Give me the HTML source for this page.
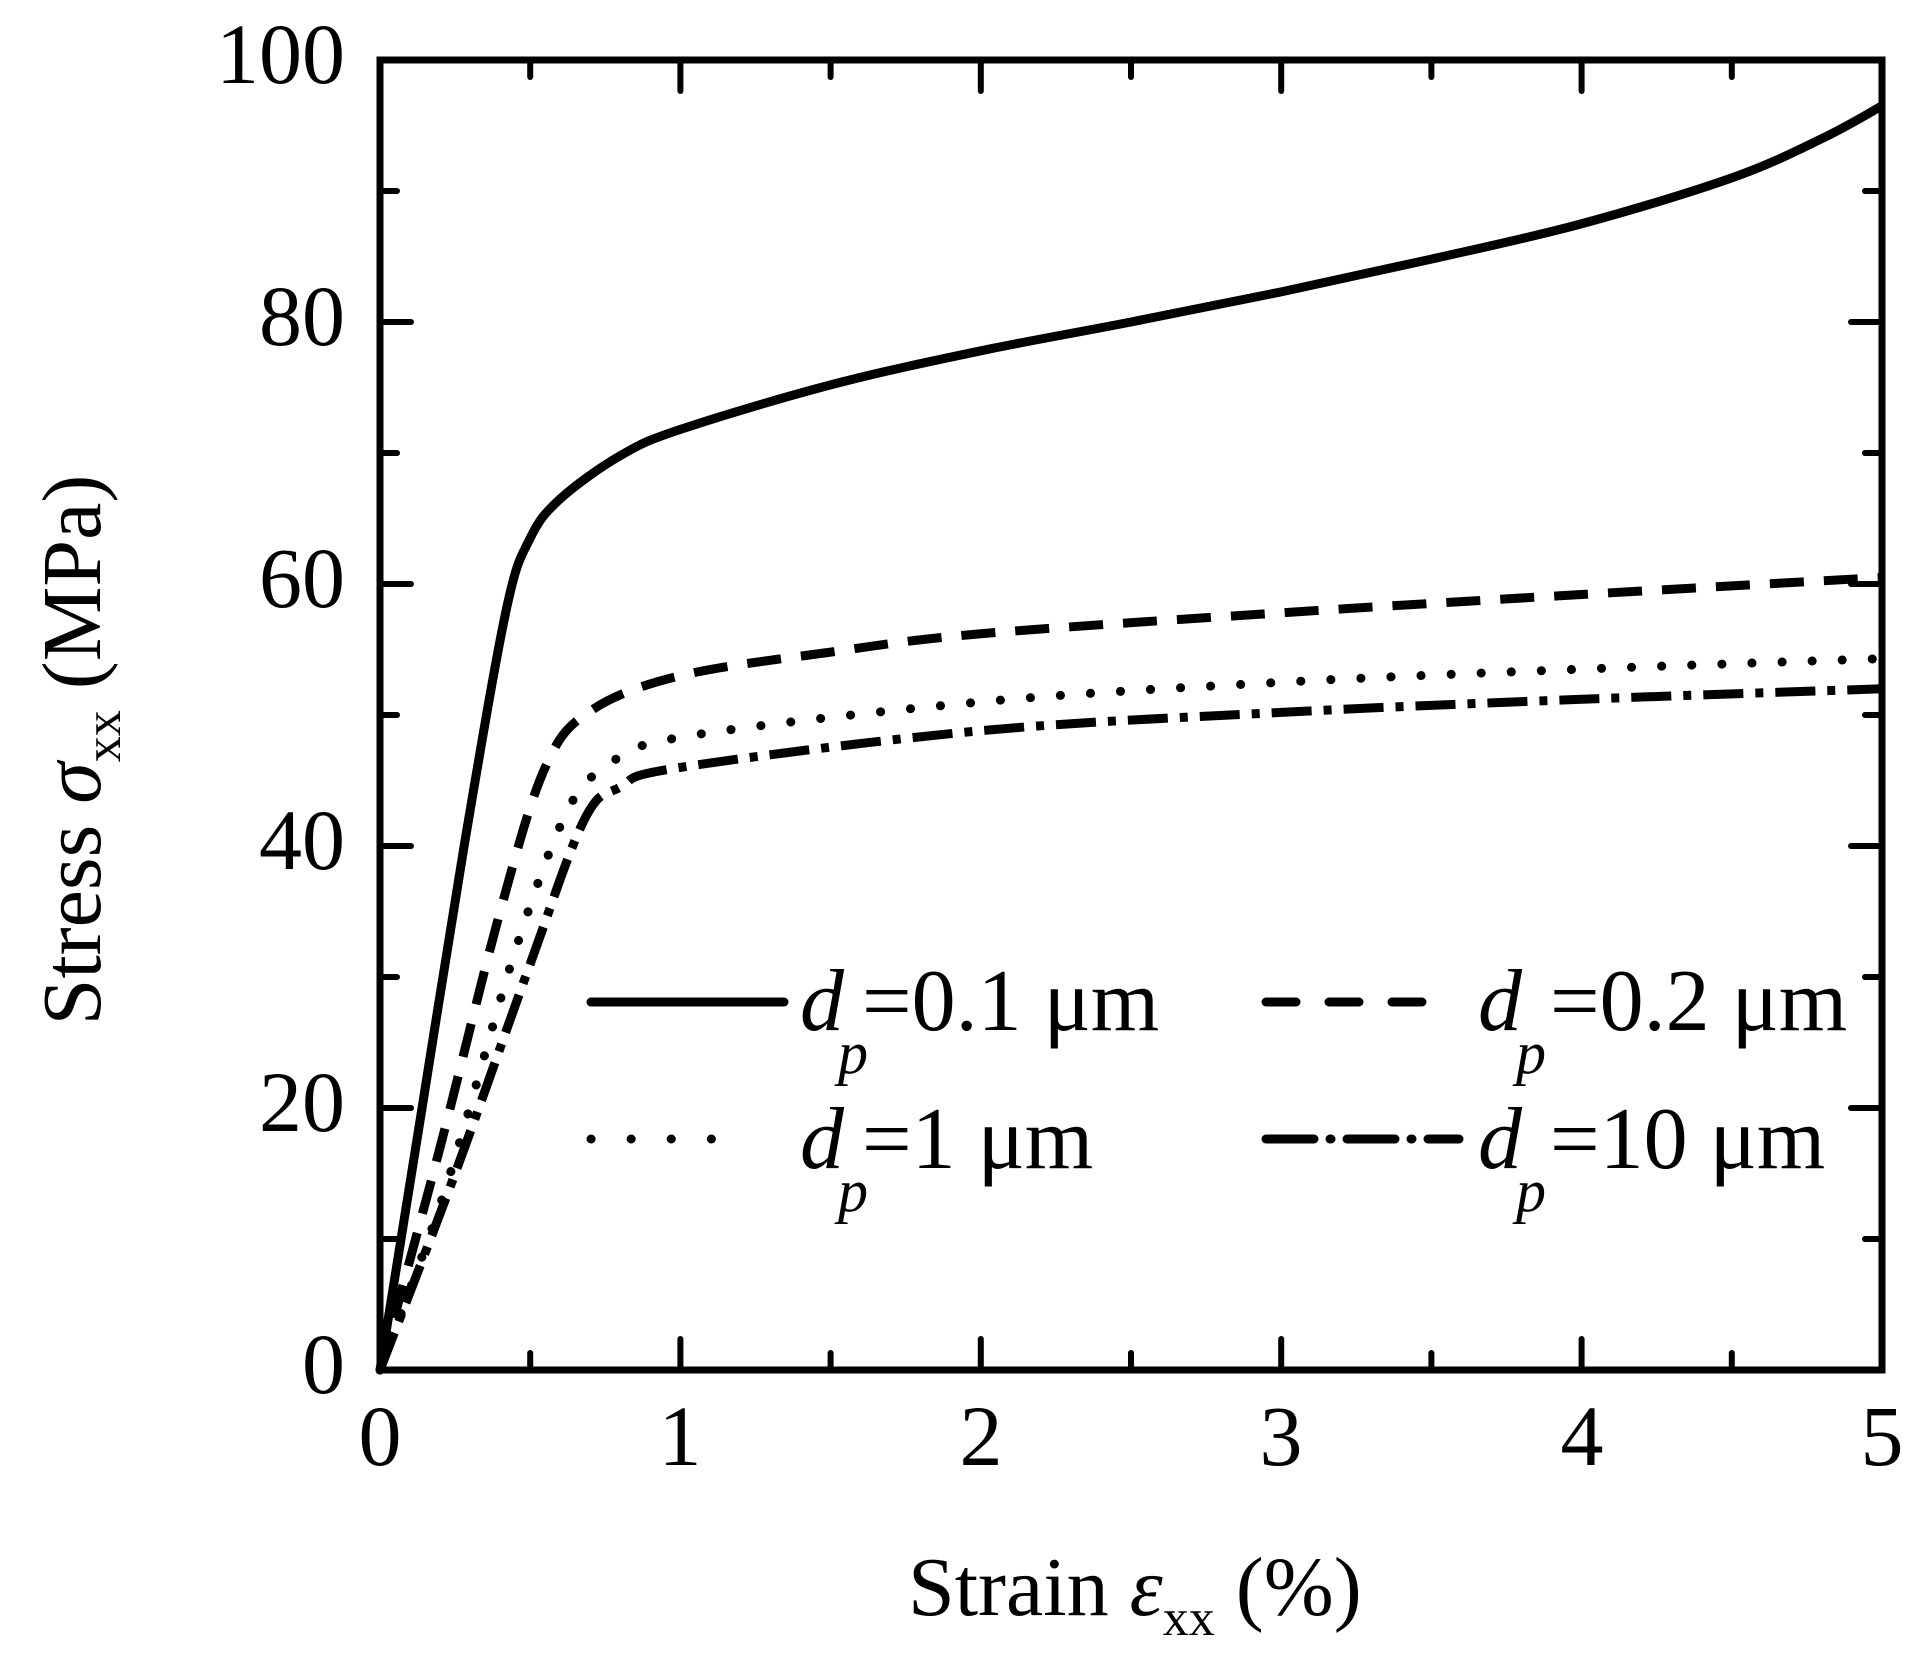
<!DOCTYPE html>
<html><head><meta charset="utf-8"><style>
html,body{margin:0;padding:0;background:#fff;}
svg{display:block;}
text{font-family:"Liberation Serif",serif;fill:#000;}
</style></head><body>
<svg id="s" width="1925" height="1669" viewBox="0 0 1925 1669" xmlns="http://www.w3.org/2000/svg">
<rect width="1925" height="1669" fill="#fff"/>
<g id="ticks" stroke="#000" stroke-width="6" stroke-linecap="round"></g>
<g id="curves" fill="none" stroke="#000" stroke-width="9" stroke-linejoin="round"></g>
<rect x="380" y="60" width="1502" height="1310" fill="none" stroke="#000" stroke-width="7"/>
<g font-size="86" text-anchor="end">
<text x="345" y="83">100</text>
<text x="345" y="345">80</text>
<text x="345" y="607">60</text>
<text x="345" y="869">40</text>
<text x="345" y="1131">20</text>
<text x="345" y="1393">0</text>
</g>
<g font-size="86" text-anchor="middle">
<text x="380" y="1465">0</text>
<text x="680" y="1465">1</text>
<text x="981" y="1465">2</text>
<text x="1281" y="1465">3</text>
<text x="1582" y="1465">4</text>
<text x="1882" y="1465">5</text>
</g>
<text x="908" y="1615" font-size="84">Strain <tspan font-style="italic">ε</tspan><tspan font-size="52" dy="20">xx</tspan><tspan dy="-20"> (%)</tspan></text>
<text transform="translate(100,750) rotate(-90)" text-anchor="middle" font-size="84">Stress <tspan font-style="italic">σ</tspan><tspan font-size="52" dy="20">xx</tspan><tspan dy="-20"> (MPa)</tspan></text>
<g stroke="#000" stroke-width="9" stroke-linecap="round">
<line x1="591" y1="1002" x2="784" y2="1002"/>
<line x1="591" y1="1139" x2="750" y2="1139" stroke-dasharray="0.1 40"/>
<line x1="1266" y1="1002" x2="1427" y2="1002" stroke-dasharray="30 33"/>
<line x1="1266" y1="1139" x2="1459" y2="1139" stroke-dasharray="48 16 1 16"/>
</g>
<g font-size="88">
<text x="800" y="1030" font-style="italic">d</text><text x="838" y="1073" font-size="60" font-style="italic">p</text><text x="862" y="1030">=0.1 μm</text>
<text x="800" y="1168" font-style="italic">d</text><text x="838" y="1211" font-size="60" font-style="italic">p</text><text x="862" y="1168">=1 μm</text>
<text x="1478" y="1030" font-style="italic">d</text><text x="1516" y="1073" font-size="60" font-style="italic">p</text><text x="1550" y="1030">=0.2 μm</text>
<text x="1478" y="1168" font-style="italic">d</text><text x="1516" y="1211" font-size="60" font-style="italic">p</text><text x="1550" y="1168">=10 μm</text>
</g>
</svg>
<script>
var X=function(x){return 380+300.4*x},Y=function(y){return 1370-13.1*y};
var ns="http://www.w3.org/2000/svg";
var tg=document.getElementById("ticks");
function ln(x1,y1,x2,y2){var l=document.createElementNS(ns,"line");l.setAttribute("x1",x1);l.setAttribute("y1",y1);l.setAttribute("x2",x2);l.setAttribute("y2",y2);tg.appendChild(l);}
for(var i=0;i<=10;i++){var x=X(i*0.5),L=i%2?17:31;ln(x,1370,x,1370-L);ln(x,60,x,60+L);}
for(var i=0;i<=10;i++){var y=Y(i*10),L=i%2?17:31;ln(380,y,380+L,y);ln(1882,y,1882-L,y);}
function path(pts,dash,cap){
 var p=pts.map(function(a){return [X(a[0]),Y(a[1])]});
 var d="M"+p[0][0]+","+p[0][1];
 for(var i=0;i<p.length-1;i++){
  var p0=p[i-1]||p[i],p1=p[i],p2=p[i+1],p3=p[i+2]||p2;
  var c1=[p1[0]+(p2[0]-p0[0])/6,p1[1]+(p2[1]-p0[1])/6];
  var c2=[p2[0]-(p3[0]-p1[0])/6,p2[1]-(p3[1]-p1[1])/6];
  d+="C"+c1+" "+c2+" "+p2;
 }
 var e=document.createElementNS(ns,"path");e.setAttribute("d",d);
 if(dash){e.setAttribute("stroke-dasharray",dash);}
 if(cap)e.setAttribute("stroke-linecap",cap);
 document.getElementById("curves").appendChild(e);
}
path([[0,0],[0.14,20],[0.28,40],[0.42,58],[0.5,63.5],[0.6,66.5],[0.8,69.8],[1,71.8],[1.5,75.2],[2,77.8],[2.5,80],[3,82.3],[3.5,84.8],[4,87.5],[4.5,91],[4.8,94],[5,96.5]]);
path([[0,0],[0.2,17],[0.4,35],[0.55,46],[0.7,50.3],[1,53],[1.5,54.8],[2,56.2],[3,57.8],[4,59.2],[5,60.5]],"34 20");
path([[0,0],[0.22,14],[0.45,32],[0.62,42.5],[0.75,46],[1,48.3],[2,51],[3,52.5],[4,53.5],[5,54.3]],"0.1 30","round");
path([[0,0],[0.25,15],[0.5,31],[0.68,42],[0.8,44.5],[1,46],[2,48.8],[3,50.2],[4,51.2],[5,52]],"40 12 8 12");
</script>
</body></html>
